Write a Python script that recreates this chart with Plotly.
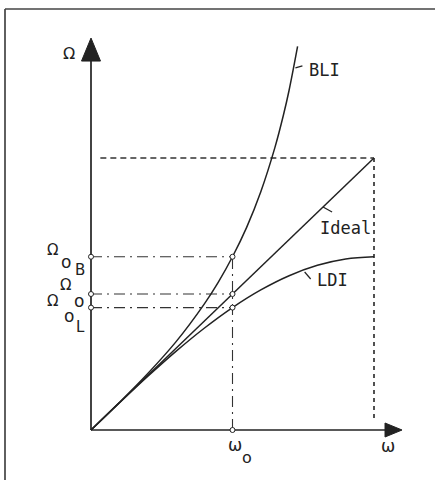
import numpy as np
import plotly.graph_objects as go

# Normalised frequency axis (omega) and the mapped analogue frequency (Omega)
omega_ideal = [0.0, 1.0]
Omega_ideal = [0.0, 1.0]

omega_bli = [0.0, 0.1, 0.2, 0.3, 0.4, 0.45, 0.5, 0.55, 0.6, 0.65, 0.68, 0.7, 0.73]
Omega_bli = [0.0, 0.101, 0.207, 0.324, 0.463, 0.544, 0.637, 0.745, 0.876, 1.039, 1.158, 1.249, 1.41]

omega_ldi = [0.0, 0.1, 0.2, 0.3, 0.4, 0.5, 0.6, 0.7, 0.8, 0.9, 1.0]
Omega_ldi = [0.0, 0.0996, 0.1967, 0.289, 0.3742, 0.4502, 0.515, 0.5672, 0.6055, 0.6288, 0.6366]

curve_names = ["BLI", "Ideal", "LDI"]

# Design point and the three mapped values
omega0 = 0.5
Omega0 = 0.5
Omega0B = 0.637
Omega0L = 0.450

ink = "#222222"
W, H = 435, 480
# pixel placement of the plotting frame
x_origin_px, x_unit_px = 91.0, 283.0
y_origin_px, y_unit_px = 430.0, 272.0
x_lo = -x_origin_px / x_unit_px
x_hi = x_lo + W / x_unit_px
y_hi = y_origin_px / y_unit_px
y_lo = y_hi - H / y_unit_px

y_tip = 1.441   # top of the Omega axis
x_tip = 1.099   # end of the omega axis

fig = go.Figure()

dashdot = "11px,5px,2px,5px"
# dash-dot guides from the design frequency
for lvl in [Omega0B, Omega0, Omega0L]:
    fig.add_trace(go.Scatter(x=[0, omega0], y=[lvl, lvl], mode="lines",
                             line=dict(color="#333", width=1.1, dash=dashdot)))
fig.add_trace(go.Scatter(x=[omega0, omega0], y=[0, Omega0B], mode="lines",
                         line=dict(color="#333", width=1.1, dash=dashdot)))

# dashed limit box
fig.add_trace(go.Scatter(x=[0.033, 1.0], y=[1.0, 1.0], mode="lines",
                         line=dict(color="#333", width=1.7, dash="6px,4px")))
fig.add_trace(go.Scatter(x=[1.0, 1.0], y=[1.0, 0.044], mode="lines",
                         line=dict(color="#333", width=1.7, dash="4px,4px")))

# the three mappings
fig.add_trace(go.Scatter(x=omega_ideal, y=Omega_ideal, mode="lines",
                         line=dict(color=ink, width=1.5)))
fig.add_trace(go.Scatter(x=omega_bli, y=Omega_bli, mode="lines", line_shape="spline",
                         line=dict(color=ink, width=1.5)))
fig.add_trace(go.Scatter(x=omega_ldi, y=Omega_ldi, mode="lines", line_shape="spline",
                         line=dict(color=ink, width=1.5)))

# small open circles at the guide ends
mx = [0, 0, 0, omega0, omega0, omega0, omega0]
my = [Omega0B, Omega0, Omega0L, Omega0B, Omega0, Omega0L, 0]
fig.add_trace(go.Scatter(x=mx, y=my, mode="markers",
                         marker=dict(symbol="circle", size=5, color="white",
                                     line=dict(color=ink, width=1))))

shapes = []
# axes
shapes.append(dict(type="line", xref="x", yref="y", x0=0, y0=0, x1=0, y1=y_tip - 0.05,
                   line=dict(color=ink, width=1.7), layer="below"))
shapes.append(dict(type="line", xref="x", yref="y", x0=0, y0=0, x1=x_tip - 0.03, y1=0,
                   line=dict(color=ink, width=1.7), layer="below"))
# arrow heads
shapes.append(dict(type="path", xref="x", yref="y", xsizemode="pixel", ysizemode="pixel",
                   xanchor=0, yanchor=y_tip, path="M0,0 L-9.5,-23 L9.5,-23 Z",
                   fillcolor=ink, line=dict(color=ink, width=1)))
shapes.append(dict(type="path", xref="x", yref="y", xsizemode="pixel", ysizemode="pixel",
                   xanchor=x_tip, yanchor=0, path="M0,0 L-17,7 L-17,-7 Z",
                   fillcolor=ink, line=dict(color=ink, width=1)))
# outer frame (left and top edges)
shapes.append(dict(type="line", xref="paper", yref="paper", x0=5 / W, x1=5 / W,
                   y0=-0.05, y1=1 - 9 / H, line=dict(color="#444", width=1.7)))
shapes.append(dict(type="line", xref="paper", yref="paper", x0=5 / W, x1=1.05,
                   y0=1 - 9 / H, y1=1 - 9 / H, line=dict(color="#444", width=1.7)))

# leader ticks from curves to their names
leaders = {
    "BLI": (0.7153, float(np.interp(0.7153, omega_bli, Omega_bli)), (2, 0, 9, 2), (14, -2)),
    "Ideal": (0.82, 0.82, (0, 0, 9, -5), (-5, -21)),
    "LDI": (0.755, float(np.interp(0.755, omega_ldi, Omega_ldi)), (0, -2, 6, -9), (10, -10)),
}
annotations = []
for name in curve_names:
    ax_, ay_, (a0, b0, a1, b1), (sx, sy) = leaders[name]
    shapes.append(dict(type="line", xref="x", yref="y", xsizemode="pixel", ysizemode="pixel",
                       xanchor=ax_, yanchor=ay_, x0=a0, y0=b0, x1=a1, y1=b1,
                       line=dict(color=ink, width=1.2)))
    annotations.append(dict(x=ax_, y=ay_, xref="x", yref="y", text=name, showarrow=False,
                            xanchor="left", yanchor="middle", xshift=sx, yshift=sy,
                            font=dict(family="DejaVu Sans Mono", size=17, color=ink)))

lab_font = dict(family="DejaVu Sans", size=15, color=ink)


def glyph(x, y, text, dx, dy, size=15):
    f = dict(lab_font)
    f["size"] = size
    annotations.append(dict(x=x, y=y, xref="x", yref="y", text=text, showarrow=False,
                            xanchor="center", yanchor="middle", xshift=dx, yshift=dy,
                            font=f))


# Omega-axis level labels
glyph(0, Omega0B, "Ω", -39, 7)
glyph(0, Omega0B, "o", -25, -5, 17)
glyph(0, Omega0B, "B", -11, -13, 15)
glyph(0, Omega0, "Ω", -26, 9)
glyph(0, Omega0, "o", -12, -7, 17)
glyph(0, Omega0L, "Ω", -39, 7)
glyph(0, Omega0L, "o", -22, -8, 17)
glyph(0, Omega0L, "L", -11, -19, 15)
# axis names
glyph(0, y_tip, "Ω", -22, -15, 16)
glyph(x_tip, 0, "ω", -14, -16, 17)
glyph(omega0, 0, "ω", 2, -15, 17)
glyph(omega0, 0, "o", 14, -27, 16)

fig.update_layout(
    width=W, height=H,
    margin=dict(l=0, r=0, t=0, b=0),
    paper_bgcolor="white", plot_bgcolor="white",
    showlegend=False, hovermode=False,
    xaxis=dict(range=[x_lo, x_hi], visible=False, fixedrange=True),
    yaxis=dict(range=[y_lo, y_hi], visible=False, fixedrange=True),
    shapes=shapes, annotations=annotations,
)

fig.write_html("out.html", config={"displayModeBar": False})
